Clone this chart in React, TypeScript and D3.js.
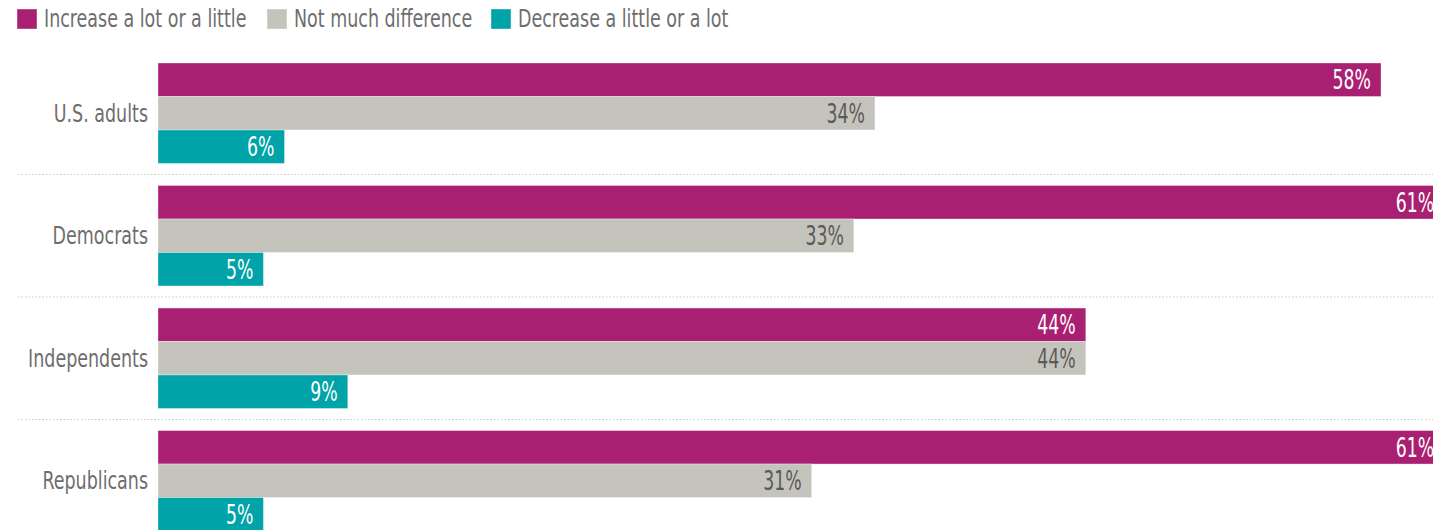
import React from "react";
import * as d3 from "d3";

const categories = ["U.S. adults", "Democrats", "Independents", "Republicans"];
const seriesNames = ["Increase a lot or a little", "Not much difference", "Decrease a little or a lot"];
const increase = [58, 61, 44, 61];
const noDifference = [34, 33, 44, 31];
const decrease = [6, 5, 9, 5];
const seriesColors = ["#A91F72", "#C4C4BC", "#00A3A7"];
const valueTextColors = ["#ffffff", "#5a5a5a", "#ffffff"];

const W = 1433;
const H = 530;
const FONT = "'DejaVu Sans Condensed', 'Roboto', sans-serif";
const SX = 0.81;

export default function App() {
  const series = [increase, noDifference, decrease];
  const x = d3.scaleLinear().domain([0, 58]).range([158, 1381]);
  const y = d3.scaleBand<string>().domain(categories).range([63, 531]).paddingInner(0.18).paddingOuter(0);
  const inner = d3.scaleBand<number>().domain([0, 1, 2]).range([0, y.bandwidth()]).padding(0);
  const gap = y.step() - y.bandwidth();
  const legendX = [17, 267, 491];

  return (
    <svg width={W} height={H} style={{ position: "absolute", left: 0, top: 0, display: "block" }} fontFamily={FONT}>
      {seriesNames.map((name, i) => (
        <g key={name} transform={`translate(${legendX[i]},9)`}>
          <rect width={20} height={20} fill={seriesColors[i]} stroke="rgba(255,255,255,0.4)" />
          <text transform={`translate(27,18) scale(${SX},1)`} fontSize={24} fill="#6e6e6e">{name}</text>
        </g>
      ))}
      {categories.map((c, ci) => {
        const y0 = y(c)!;
        return (
          <g key={c}>
            {ci > 0 && (
              <line x1={18} x2={W} y1={y0 - gap / 2} y2={y0 - gap / 2} stroke="#c8c8c8" strokeDasharray="1.5,2" strokeWidth={1} />
            )}
            <text transform={`translate(148,${y0 + y.bandwidth() / 2}) scale(${SX},1)`} dy="0.36em" textAnchor="end" fontSize={24} fill="#6e6e6e">{c}</text>
            {series.map((s, si) => {
              const by = y0 + inner(si)!;
              const bh = inner.bandwidth();
              const xe = x(s[ci]);
              return (
                <g key={si}>
                  <rect x={x(0)} y={by} width={xe - x(0)} height={bh} fill={seriesColors[si]} stroke="rgba(255,255,255,0.35)" strokeWidth={1} />
                  <text transform={`translate(${xe - 10},${by + bh / 2}) scale(0.74,1)`} dy="0.37em" textAnchor="end" fontSize={26} fill={valueTextColors[si]}>{s[ci]}%</text>
                </g>
              );
            })}
          </g>
        );
      })}
    </svg>
  );
}
